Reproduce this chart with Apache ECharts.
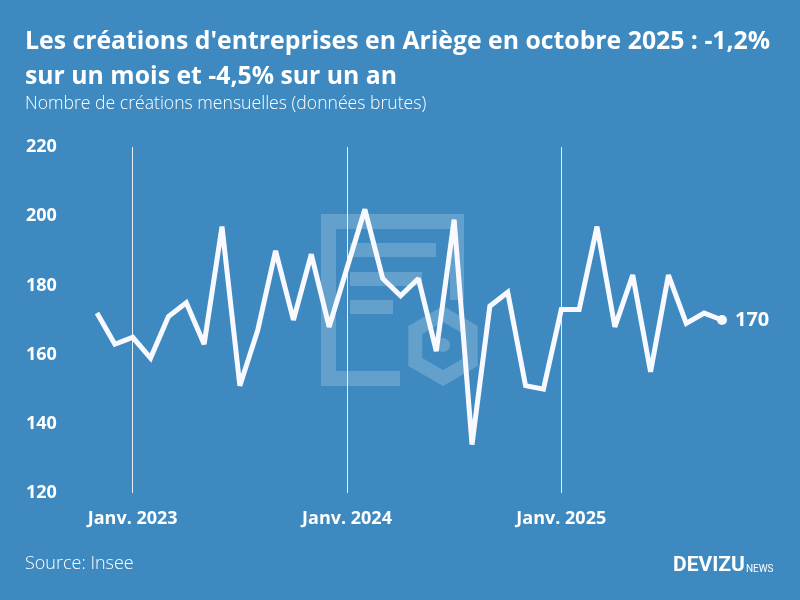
<!DOCTYPE html>
<html>
<head>
<meta charset="utf-8">
<script src="https://cdn.jsdelivr.net/npm/echarts@6/dist/echarts.min.js"></script>
<style>
html,body{margin:0;padding:0;background:#3d89c0;}
#chart{width:800px;height:600px;}
</style>
</head>
<body>
<div id="chart"></div>
<script>
const months = [
  "Nov. 2022","Déc. 2022",
  "Janv. 2023","Févr. 2023","Mars 2023","Avr. 2023","Mai 2023","Juin 2023","Juil. 2023","Août 2023","Sept. 2023","Oct. 2023","Nov. 2023","Déc. 2023",
  "Janv. 2024","Févr. 2024","Mars 2024","Avr. 2024","Mai 2024","Juin 2024","Juil. 2024","Août 2024","Sept. 2024","Oct. 2024","Nov. 2024","Déc. 2024",
  "Janv. 2025","Févr. 2025","Mars 2025","Avr. 2025","Mai 2025","Juin 2025","Juil. 2025","Août 2025","Sept. 2025","Oct. 2025"
];
const creations = [
  172,163,
  165,159,171,175,163,197,151,167,190,170,189,168,
  185,202,182,177,182,161,199,134,174,178,151,150,
  173,173,197,168,183,155,183,169,172,170
];
const xTickLabels = ["Janv. 2023","Janv. 2024","Janv. 2025"];
const yTicks = [120,140,160,180,200,220];

const titleText = "Les créations d'entreprises en Ariège en octobre 2025 : -1,2%\nsur un mois et -4,5% sur un an";
const subtitleText = "Nombre de créations mensuelles (données brutes)";
const sourceText = "Source: Insee";

const BOLD = "'Open Sans', Roboto, sans-serif";
const LIGHT = "'Open Sans', Lato, Roboto, sans-serif";
const chart = echarts.init(document.getElementById('chart'), null, {renderer:'canvas'});

const lastIdx = creations.length - 1;
const seriesData = creations.map((v, i) => i === lastIdx ? {
  value: v,
  symbol: 'circle',
  symbolSize: 10,
  label: {show: true, position: 'right', distance: 8, formatter: String(v),
          color: '#ffffff', fontSize: 20, fontWeight: 'bold', fontFamily: BOLD}
} : {value: v, symbolSize: 0});

// hexagon for watermark
const hc = [443, 346], hr = 32;
const hex = [];
for (let k = 0; k < 6; k++) {
  const a = (-90 + 60 * k) * Math.PI / 180;
  hex.push([hc[0] + hr * Math.cos(a), hc[1] + hr * Math.sin(a)]);
}
const wm = 'rgba(255,255,255,0.2)';

chart.setOption({
  backgroundColor: '#3d89c0',
  animation: false,
  title: [
    {text: titleText, left: 25, top: 24, padding: 0,
     textStyle: {color: '#ffffff', fontSize: 24.8, fontWeight: 'bold', lineHeight: 35, fontFamily: BOLD}},
    {text: subtitleText, left: 25, top: 95, padding: 0,
     textStyle: {color: '#ffffff', fontSize: 17.6, fontWeight: 300, fontFamily: LIGHT}},
    {text: sourceText, left: 25, top: 555, padding: 0,
     textStyle: {color: '#ffffff', fontSize: 18, fontWeight: 300, fontFamily: LIGHT}}
  ],
  graphic: [
    {type: 'rect', z: 0, silent: true, shape: {x: 321, y: 214, width: 143, height: 15}, style: {fill: wm}},
    {type: 'rect', z: 0, silent: true, shape: {x: 321, y: 229, width: 15, height: 157}, style: {fill: wm}},
    {type: 'rect', z: 0, silent: true, shape: {x: 336, y: 371, width: 64, height: 15}, style: {fill: wm}},
    {type: 'rect', z: 0, silent: true, shape: {x: 450, y: 229, width: 14, height: 71}, style: {fill: wm}},
    {type: 'rect', z: 0, silent: true, shape: {x: 350, y: 243, width: 86, height: 14}, style: {fill: wm}},
    {type: 'rect', z: 0, silent: true, shape: {x: 350, y: 272, width: 72, height: 14}, style: {fill: wm}},
    {type: 'rect', z: 0, silent: true, shape: {x: 350, y: 300, width: 43, height: 14}, style: {fill: wm}},
    {type: 'polygon', z: 0, silent: true, shape: {points: hex}, style: {fill: 'none', stroke: wm, lineWidth: 14, lineJoin: 'miter'}},
    {type: 'circle', z: 0, silent: true, shape: {cx: 443, cy: 345, r: 7}, style: {fill: wm}},
    {type: 'text', left: 673, top: 555, silent: true,
     style: {text: '{a|DEVIZU}{b|NEWS}', rich: {
       a: {fontSize: 21, fontWeight: 'bold', fill: '#ffffff', fontFamily: "'Liberation Sans Narrow', Roboto, sans-serif"},
       b: {fontSize: 10, fill: '#ffffff', fontFamily: "'Liberation Sans Narrow', Roboto, sans-serif", padding: [8, 0, 0, 1]}
     }}}
  ],
  grid: {left: 97, right: 78, top: 147, bottom: 107, containLabel: false},
  xAxis: {
    type: 'category',
    data: months,
    boundaryGap: false,
    axisLine: {show: false},
    axisTick: {show: false},
    axisLabel: {
      interval: (i, v) => xTickLabels.includes(v),
      color: '#ffffff', fontSize: 18, fontWeight: 'bold', fontFamily: BOLD, margin: 17
    },
    splitLine: {
      show: true,
      interval: (i, v) => xTickLabels.includes(v),
      lineStyle: {color: 'rgba(255,255,255,0.85)', width: 1}
    }
  },
  yAxis: {
    type: 'value',
    min: yTicks[0], max: yTicks[yTicks.length - 1], interval: 20,
    axisLine: {show: false},
    axisTick: {show: false},
    splitLine: {show: false},
    axisLabel: {align: 'left', margin: 71, color: '#ffffff', fontSize: 18, fontWeight: 'bold', fontFamily: BOLD}
  },
  series: [{
    type: 'line',
    data: seriesData,
    symbol: 'circle',
    lineStyle: {color: '#f8f8ff', width: 5, join: 'miter', miterLimit: 2},
    itemStyle: {color: '#f8f8ff'},
    z: 5
  }]
});
</script>
</body>
</html>
